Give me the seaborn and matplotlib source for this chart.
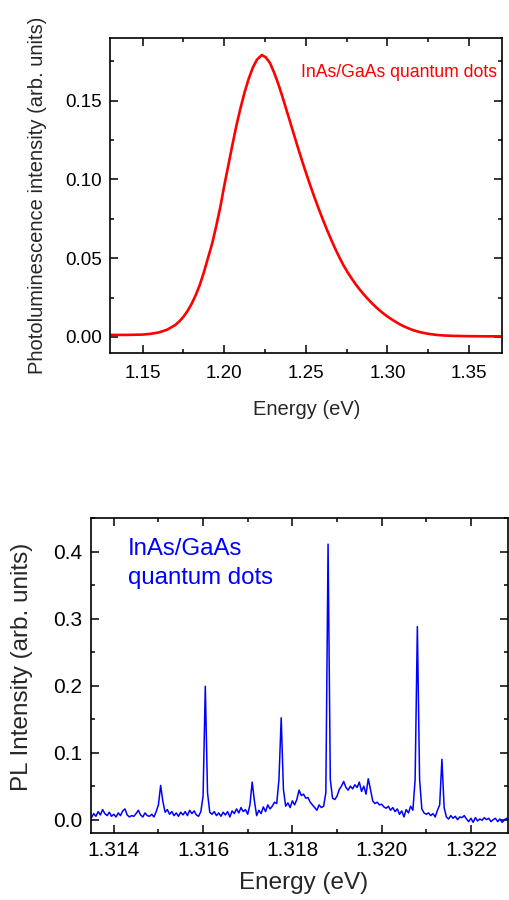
import numpy as np
import pandas as pd
import seaborn as sns
import matplotlib.pyplot as plt
from matplotlib.ticker import MultipleLocator, FormatStrFormatter

# ensemble PL spectrum (top panel)
ensemble_energy = [1.130, 1.140, 1.150, 1.155, 1.160, 1.165, 1.170, 1.1725, 1.175, 1.1775,
                   1.180, 1.1825, 1.185, 1.1875, 1.190, 1.1925, 1.195, 1.1975, 1.200, 1.2025,
                   1.205, 1.2075, 1.210, 1.2125, 1.215, 1.2175, 1.220, 1.223, 1.2255, 1.228,
                   1.2305, 1.233, 1.2355, 1.238, 1.2405, 1.243, 1.2455, 1.248, 1.2505, 1.253,
                   1.2555, 1.258, 1.2605, 1.263, 1.2655, 1.268, 1.2705, 1.273, 1.2755, 1.278,
                   1.2805, 1.283, 1.2855, 1.288, 1.2905, 1.293, 1.2955, 1.298, 1.3005, 1.303,
                   1.3055, 1.308, 1.3105, 1.313, 1.3155, 1.318, 1.3205, 1.325, 1.330, 1.335,
                   1.340, 1.350, 1.360, 1.370]
ensemble_intensity = [0.0013, 0.0013, 0.0015, 0.0020, 0.0029, 0.0046, 0.0076, 0.0099, 0.0128, 0.0165,
                      0.0210, 0.0265, 0.0330, 0.0410, 0.0500, 0.0590, 0.0700, 0.0820, 0.0960, 0.1090,
                      0.1220, 0.1345, 0.1455, 0.1555, 0.1640, 0.1710, 0.1760, 0.1790, 0.1775, 0.1740,
                      0.1680, 0.1610, 0.1530, 0.1445, 0.1360, 0.1275, 0.1190, 0.1108, 0.1029, 0.0953,
                      0.0880, 0.0810, 0.0743, 0.0679, 0.0618, 0.0560, 0.0506, 0.0456, 0.0412, 0.0372,
                      0.0335, 0.0301, 0.0270, 0.0241, 0.0214, 0.0189, 0.0166, 0.0145, 0.0126, 0.0109,
                      0.0093, 0.0078, 0.0065, 0.0054, 0.0044, 0.0036, 0.0029, 0.0020, 0.0013, 0.0009,
                      0.0007, 0.0005, 0.0004, 0.0004]

# single-dot spectrum (bottom panel), sampled every 0.05 meV from 1.3135 eV
dots_start, dots_step = 1.3135, 0.00005
dots_intensity = [
    0.003, 0.009, 0.005, 0.012, 0.007, 0.015, 0.009, 0.006, 0.011, 0.005,
    0.008, 0.004, 0.010, 0.006, 0.013, 0.016, 0.007, 0.004, 0.006, 0.005,
    0.009, 0.014, 0.007, 0.004, 0.010, 0.006, 0.005, 0.008, 0.004, 0.012,
    0.022, 0.051, 0.027, 0.011, 0.015, 0.008, 0.012, 0.006, 0.010, 0.005,
    0.011, 0.007, 0.012, 0.006, 0.014, 0.009, 0.013, 0.007, 0.005, 0.012,
    0.035, 0.199, 0.040, 0.011, 0.008, 0.012, 0.006, 0.010, 0.005, 0.011,
    0.007, 0.012, 0.004, 0.013, 0.009, 0.016, 0.010, 0.018, 0.012, 0.015,
    0.008, 0.022, 0.056, 0.028, 0.006, 0.014, 0.009, 0.019, 0.012, 0.022,
    0.016, 0.020, 0.026, 0.024, 0.060, 0.152, 0.045, 0.020, 0.025, 0.018,
    0.028, 0.022, 0.030, 0.044, 0.036, 0.038, 0.032, 0.033, 0.026, 0.022,
    0.018, 0.014, 0.022, 0.018, 0.020, 0.040, 0.411, 0.060, 0.032, 0.030,
    0.035, 0.045, 0.050, 0.057, 0.048, 0.044, 0.050, 0.046, 0.052, 0.048,
    0.056, 0.042, 0.050, 0.038, 0.061, 0.045, 0.028, 0.024, 0.026, 0.022,
    0.023, 0.019, 0.017, 0.020, 0.014, 0.018, 0.012, 0.016, 0.008, 0.013,
    0.004, 0.015, 0.010, 0.020, 0.014, 0.060, 0.288, 0.060, 0.016, 0.010,
    0.008, 0.010, 0.006, 0.009, 0.004, 0.014, 0.022, 0.090, 0.018, 0.004,
    0.001, 0.006, 0.002, 0.005, 0.000, 0.004, 0.003, 0.006, 0.001, -0.003,
    0.002, -0.004, 0.003, -0.002, 0.001, -0.001, 0.003, 0.000, 0.002, -0.003,
    0.000, 0.002, -0.003, 0.001, -0.004, 0.000, 0.002, -0.002, 0.000,
]
dots_energy = np.round(dots_start + dots_step * np.arange(len(dots_intensity)), 5)

top_xticks = [1.15, 1.20, 1.25, 1.30, 1.35]
top_yticks = [0.00, 0.05, 0.10, 0.15]
bottom_xticks = [1.314, 1.316, 1.318, 1.320, 1.322]
bottom_yticks = [0.0, 0.1, 0.2, 0.3, 0.4]


def style_axes(ax, xminor, yminor, fs):
    ax.xaxis.set_minor_locator(MultipleLocator(xminor))
    ax.yaxis.set_minor_locator(MultipleLocator(yminor))
    ax.tick_params(which='both', direction='in', top=True, right=True,
                   bottom=True, left=True, width=1.1, colors='black', labelsize=fs)
    ax.tick_params(which='major', length=6)
    ax.tick_params(which='minor', length=3)
    for s in ax.spines.values():
        s.set_linewidth(1.2)
        s.set_color('black')


def main() -> None:
    sns.set_style('ticks')
    plt.rcParams['font.family'] = ['Liberation Sans', 'DejaVu Sans']

    fig = plt.figure(figsize=(5.09, 9.0), dpi=100)

    # --- top panel
    ax1 = fig.add_axes([0.2161, 0.6081, 0.7696, 0.35])
    df1 = pd.DataFrame({'energy': ensemble_energy, 'intensity': ensemble_intensity})
    sns.lineplot(data=df1, x='energy', y='intensity', ax=ax1, color='#ff0000', linewidth=1.9)
    ax1.set_xlim(1.13, 1.37)
    ax1.set_ylim(-0.01, 0.19)
    ax1.set_xticks(top_xticks)
    ax1.set_yticks(top_yticks)
    ax1.xaxis.set_major_formatter(FormatStrFormatter('%.2f'))
    ax1.yaxis.set_major_formatter(FormatStrFormatter('%.2f'))
    style_axes(ax1, 0.025, 0.025, 13.5)
    ax1.tick_params(axis='x', pad=9)
    ax1.tick_params(axis='y', pad=6)
    ax1.set_xlabel('Energy (eV)', fontsize=14.5)
    ax1.set_ylabel('Photoluminescence intensity (arb. units)', fontsize=14.5)
    ax1.xaxis.set_label_coords(0.503, -0.15)
    ax1.yaxis.set_label_coords(-0.16, 0.5)
    ax1.text(0.988, 0.875, 'InAs/GaAs quantum dots', transform=ax1.transAxes,
             ha='right', va='baseline', color='#ff0000', fontsize=12.7)

    # --- bottom panel
    ax2 = fig.add_axes([0.1788, 0.0744, 0.8192, 0.35])
    df2 = pd.DataFrame({'energy': dots_energy, 'intensity': dots_intensity})
    sns.lineplot(data=df2, x='energy', y='intensity', ax=ax2, color='#0000ff', linewidth=1.1)
    ax2.set_xlim(1.31349, 1.32283)
    ax2.set_ylim(-0.02, 0.45)
    ax2.set_xticks(bottom_xticks)
    ax2.set_yticks(bottom_yticks)
    ax2.xaxis.set_major_formatter(FormatStrFormatter('%.3f'))
    ax2.yaxis.set_major_formatter(FormatStrFormatter('%.1f'))
    style_axes(ax2, 0.001, 0.05, 15)
    ax2.tick_params(axis='x', pad=6)
    ax2.tick_params(axis='y', pad=6.5)
    ax2.set_xlabel('Energy (eV)', fontsize=17.5)
    ax2.set_ylabel('PL Intensity (arb. units)', fontsize=17.5)
    ax2.xaxis.set_label_coords(0.51, -0.125)
    ax2.yaxis.set_label_coords(-0.139, 0.527)
    ax2.text(0.089, 0.937, 'InAs/GaAs\nquantum dots', transform=ax2.transAxes,
             ha='left', va='top', color='#0000ff', fontsize=17.3, linespacing=1.4)

    fig.savefig('out.png', dpi=100)


if __name__ == "__main__":
    main()
